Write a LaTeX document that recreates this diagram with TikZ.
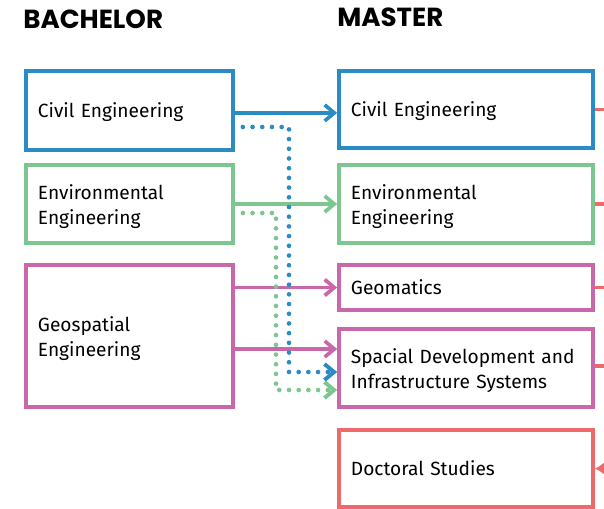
\documentclass[tikz,border=0pt]{standalone}
\usepackage{fontspec}
\setmainfont{Fira Sans}
\newfontfamily\headfont{Poppins}
\usetikzlibrary{arrows.meta,calc,positioning}
\definecolor{civilblue}{HTML}{2B8CC4}
\definecolor{envgreen}{HTML}{7CC68F}
\definecolor{geomagenta}{HTML}{C868AA}
\definecolor{phdred}{HTML}{EE6A6A}

\begin{document}
\begin{tikzpicture}[
  x=0.025cm, y=-0.025cm,
  box/.style={draw, line width=2.6pt, minimum height=#1, inner xsep=0.3cm,
    align=left, font=\fontsize{13.6}{17.7}\selectfont,
    execute at end node={\endgraf\vspace{-0.14cm}}},
  bbox/.style={box=#1, text width=4.575cm},
  mbox/.style={box=#1, text width=5.75cm},
  head/.style={anchor=base west, inner sep=0pt,
    font=\headfont\bfseries\fontsize{18.6}{20}\selectfont},
  flow/.style={-{Straight Barb[length=2.4mm,width=4mm,line width=2.6pt]}, line width=2.6pt},
  dotflow/.style={-{Straight Barb[length=2.4mm,width=4mm,line width=2.8pt]},
    line width=3.3pt, line cap=round, dash pattern=on 0pt off 6.9pt},
  stub/.style={line width=2.6pt, phdred}
]
\useasboundingbox (0,0) rectangle (604,508);
\node[head] (bachelor) at (23,28) {BACHELOR};
\node[head] (master) at (337,26) {MASTER};
% bachelor programmes
\node[bbox=1.975cm, civilblue] (bcivil) at (129.5,110.5)
  {\textcolor{black}{Civil Engineering}};
\node[bbox=1.95cm, envgreen] (benv) at (129.5,204)
  {\textcolor{black}{Environmental\\Engineering}};
\node[bbox=3.55cm, geomagenta] (bgeo) at (129.5,336)
  {\textcolor{black}{Geospatial\\Engineering}};
% master programmes
\node[mbox=1.925cm, civilblue] (mcivil) at (466,109.5)
  {\textcolor{black}{Civil Engineering}};
\node[mbox=1.95cm, envgreen] (menv) at (466,204)
  {\textcolor{black}{Environmental\\Engineering}};
\node[mbox=1.125cm, geomagenta] (mgeom) at (466,287.5)
  {\textcolor{black}{Geomatics}};
\node[mbox=1.95cm, geomagenta] (mspace) at (466,368)
  {\textcolor{black}{Spacial Development and\\Infrastructure Systems}};
\node[mbox=1.925cm, phdred] (phd) at (466,468.5)
  {\textcolor{black}{Doctoral Studies}};
% direct paths
\draw[flow, civilblue] ([yshift=-0.06cm]bcivil.east) -- ([yshift=-0.06cm]bcivil.east -| mcivil.west);
\draw[flow, envgreen] (benv.east) -- (benv.east -| menv.west);
\draw[flow, geomagenta] (bgeo.east |- mgeom.west) -- (mgeom.west);
\coordinate (spacetop) at ([yshift=0.475cm]mspace.west);
\draw[flow, geomagenta] (bgeo.east |- spacetop) -- (spacetop);
% alternative paths
\coordinate (bluebend) at (289,127);
\coordinate (greenbend) at (276,213);
\coordinate (blueend) at ([yshift=-0.1cm]mspace.west);
\coordinate (greenend) at ([yshift=-0.55cm]mspace.west);
\draw[dotflow, civilblue] ([xshift=0.2cm]bcivil.east |- bluebend) -- (bluebend)
  -- (bluebend |- blueend) -- (blueend);
\draw[dotflow, envgreen] ([xshift=0.2cm]benv.east |- greenbend) -- (greenbend)
  -- (greenbend |- greenend) -- (greenend);
% on to doctoral studies
\coordinate (edge) at (604,0);
\draw[stub] (mcivil.east) -- (mcivil.east -| edge);
\draw[stub] (menv.east) -- (menv.east -| edge);
\draw[stub] (mgeom.east) -- (mgeom.east -| edge);
\draw[stub] ([yshift=0.05cm]mspace.east) -- ([yshift=0.05cm]mspace.east -| edge);
\draw[stub, -{Latex[length=2.6mm,width=3.6mm]}] (phd.east -| edge) -- (phd.east);
\end{tikzpicture}
\end{document}
